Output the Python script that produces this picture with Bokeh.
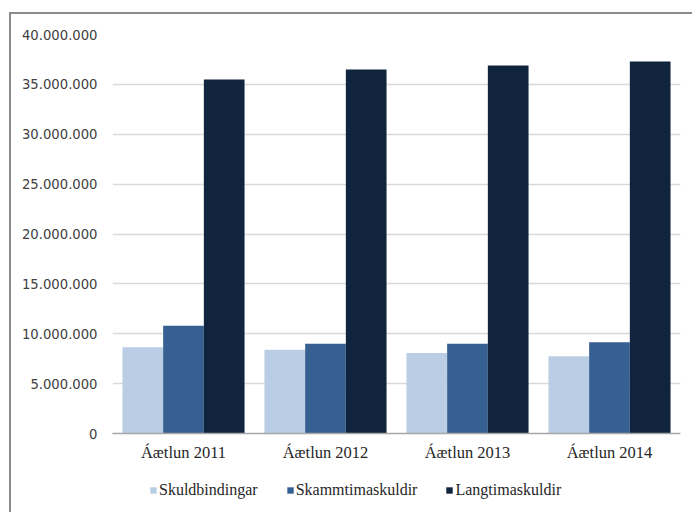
from bokeh.plotting import figure
from bokeh.layouts import column
from bokeh.models import (ColumnDataSource, FactorRange, Range1d, SingleIntervalTicker,
                          CustomJSTickFormatter, Legend, LegendItem)
from bokeh.transform import dodge
from bokeh.embed import file_html
from bokeh.resources import INLINE

categories = ["Áætlun 2011", "Áætlun 2012", "Áætlun 2013", "Áætlun 2014"]
series_names = ["Skuldbindingar", "Skammtimaskuldir", "Langtimaskuldir"]
skuldbindingar = [8650000, 8400000, 8070000, 7750000]
skammtimaskuldir = [10800000, 9000000, 9000000, 9150000]
langtimaskuldir = [35500000, 36500000, 36900000, 37300000]
colors = ["#B9CDE5", "#376092", "#10243E"]

src = ColumnDataSource(dict(cat=categories, s0=skuldbindingar, s1=skammtimaskuldir, s2=langtimaskuldir))

W = 681
p = figure(width=W, height=454, x_range=FactorRange(*categories, range_padding=0),
           y_range=Range1d(0, 40000000), output_backend="svg", toolbar_location=None,
           min_border_left=101, min_border_top=20, min_border_right=12, min_border_bottom=35)
p.outline_line_color = None
p.background_fill_color = "white"
p.border_fill_color = "white"

w = 0.2866
offsets = [-w, 0, w]
cols = ["s0", "s1", "s2"]
for i in range(3):
    p.vbar(x=dodge("cat", offsets[i], range=p.x_range), top=cols[i], width=w, source=src,
           fill_color=colors[i], line_color=None)

p.xgrid.grid_line_color = None
p.ygrid.grid_line_color = "#D9D9D9"
p.ygrid.grid_line_width = 1.5

p.yaxis.ticker = SingleIntervalTicker(interval=5000000)
p.yaxis.formatter = CustomJSTickFormatter(code="""
return Math.round(tick).toString().replace(/\\B(?=(\\d{3})+(?!\\d))/g, ".");
""")
p.yaxis.axis_line_color = None
p.yaxis.major_tick_line_color = None
p.yaxis.minor_tick_line_color = None
p.yaxis.major_tick_out = 0
p.yaxis.minor_tick_out = 0
p.yaxis.major_label_standoff = 15
p.yaxis.major_label_text_font = "DejaVu Sans"
p.yaxis.major_label_text_font_size = "13.2px"
p.yaxis.major_label_text_color = "#404040"

p.xaxis.axis_line_color = "#A6A6A6"
p.xaxis.axis_line_width = 1.5
p.xaxis.major_tick_line_color = None
p.xaxis.minor_tick_line_color = None
p.xaxis.major_tick_out = 0
p.xaxis.minor_tick_out = 0
p.xaxis.major_label_standoff = 9
p.xaxis.major_label_text_font = "Liberation Serif"
p.xaxis.major_label_text_font_size = "16.5px"
p.xaxis.major_label_text_color = "#262626"

# legend strip: zero-width bars outside its y range, so only the legend shows
lf = figure(width=W, height=44, x_range=FactorRange(*categories), y_range=Range1d(-2e8, -1e8),
            output_backend="svg", toolbar_location=None,
            min_border_left=0, min_border_top=0, min_border_right=0, min_border_bottom=0)
lf.outline_line_color = None
lf.axis.visible = False
lf.grid.visible = False
lf.border_fill_color = "white"
lrs = []
for i in range(3):
    r = lf.vbar(x=dodge("cat", offsets[i], range=lf.x_range), top=cols[i], width=0, source=src,
                fill_color=colors[i], line_color=None)
    lrs.append(r)

legend = Legend(items=[LegendItem(label=n, renderers=[r]) for n, r in zip(series_names, lrs)],
                orientation="horizontal", location=(37, 13))
legend.label_text_font = "Liberation Serif"
legend.label_text_font_size = "16px"
legend.label_text_color = "#262626"
legend.glyph_width = 8
legend.glyph_height = 8
legend.label_standoff = 2
legend.spacing = 28
legend.border_line_color = None
legend.background_fill_alpha = 0
legend.margin = 0
legend.padding = 2
lf.add_layout(legend, "center")

layout = column(p, lf, spacing=0)
layout.margin = (12, 0, 0, 9)
layout.styles = {"border-top": "2px solid #8C8C8C", "border-left": "2px solid #8C8C8C"}

open("out.html", "w").write(file_html(layout, INLINE))
